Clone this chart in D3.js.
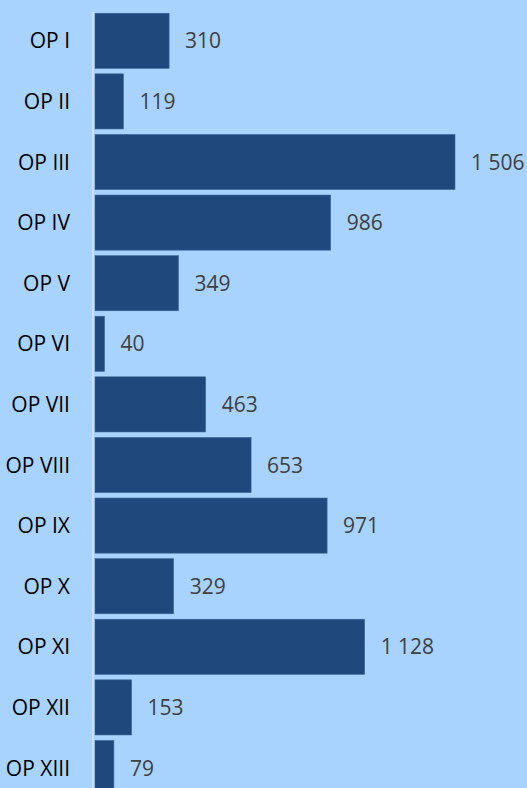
<!DOCTYPE html>
<html>
<head>
<meta charset="utf-8">
<script src="https://cdn.jsdelivr.net/npm/d3@7"></script>
<style>
  html, body { margin: 0; padding: 0; background: #a8d3ff; }
  svg { display: block; }
</style>
</head>
<body>
<div id="chart"></div>
<script>
// dane
var categories = ["OP I", "OP II", "OP III", "OP IV", "OP V", "OP VI", "OP VII",
                  "OP VIII", "OP IX", "OP X", "OP XI", "OP XII", "OP XIII"];
var values = [310, 119, 1506, 986, 349, 40, 463, 653, 971, 329, 1128, 153, 79];
var valueLabels = ["310", "119", "1 506", "986", "349", "40", "463",
                   "653", "971", "329", "1 128", "153", "79"];

var W = 527, H = 788;

var svg = d3.select("#chart").append("svg")
    .attr("width", W)
    .attr("height", H);

svg.append("rect").attr("width", W).attr("height", H).attr("fill", "#a8d3ff");

var x = d3.scaleLinear().domain([0, 1506]).range([95, 455]);

// 13 pasków, krok ~60.6 px
var y = d3.scaleBand()
    .domain(categories)
    .range([10.5, 10.5 + 60.6 * 13])
    .paddingInner(0.09)
    .paddingOuter(0.045);

var g = svg.append("g");

g.selectAll("rect.bar")
    .data(values)
    .enter().append("rect")
    .attr("class", "bar")
    .attr("x", x(0))
    .attr("y", function (d, i) { return y(categories[i]); })
    .attr("width", function (d) { return x(d) - x(0); })
    .attr("height", y.bandwidth())
    .attr("fill", "#1f497d")
    .attr("stroke", "#3f6696")
    .attr("stroke-width", 0.6);

// oś
svg.append("line")
    .attr("x1", 93).attr("x2", 93)
    .attr("y1", 12).attr("y2", H)
    .attr("stroke", "#d9e6f2")
    .attr("stroke-width", 1.5);

// etykiety kategorii
g.selectAll("text.cat")
    .data(categories)
    .enter().append("text")
    .attr("class", "cat")
    .attr("x", 70)
    .attr("y", function (d) { return y(d) + y.bandwidth() / 2; })
    .attr("dy", "0.36em")
    .attr("text-anchor", "end")
    .attr("font-family", "'Open Sans', sans-serif")
    .attr("font-size", 21)
    .attr("fill", "#000")
    .text(function (d) { return d; });

// etykiety wartości
g.selectAll("text.val")
    .data(values)
    .enter().append("text")
    .attr("class", "val")
    .attr("x", function (d) { return x(d) + 16; })
    .attr("y", function (d, i) { return y(categories[i]) + y.bandwidth() / 2; })
    .attr("dy", "0.36em")
    .attr("font-family", "'Open Sans', sans-serif")
    .attr("font-size", 21)
    .attr("fill", "#404040")
    .text(function (d, i) { return valueLabels[i]; });
</script>
</body>
</html>
